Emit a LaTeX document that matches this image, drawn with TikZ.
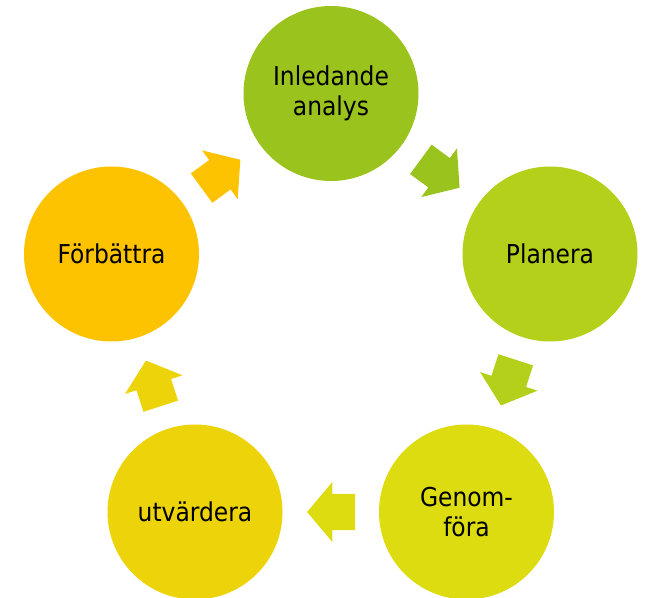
\documentclass[tikz,border=0pt]{standalone}
\usepackage{fontspec}
\setmainfont{DejaVu Sans Condensed}
\usepackage{xcolor}
\definecolor{olive-green}{RGB}{155,195,30}
\definecolor{lime-green}{RGB}{181,208,26}
\definecolor{pale-lime}{RGB}{220,220,16}
\definecolor{mustard}{RGB}{237,212,10}
\definecolor{amber}{RGB}{253,194,0}
\usetikzlibrary{shapes.arrows}

\begin{document}
\begin{tikzpicture}[x=1pt,y=1pt,
	stage/.style={circle,fill=#1,minimum size=175pt,inner sep=0pt,
		align=center,font=\fontsize{26}{30}\selectfont},
	turn/.style={single arrow,fill=#1,inner xsep=0pt,inner ysep=18pt,
		minimum height=48pt,minimum width=0pt,single arrow head extend=12pt,
		single arrow tip angle=100,sloped,allow upside down,xshift=-8pt}]
	\useasboundingbox (0,0) rectangle (649,598);
	
	\foreach \x/\y/\c/\n/\t in 
	{331/504.5/olive-green/inl/{Inledande\\analys},
	 550/344/lime-green/plan/Planera,
	 466.5/86/pale-lime/gen/{Genom-\\föra},
	 195/86/mustard/utv/utvärdera,
	 111.5/344/amber/forb/Förbättra}{
		\node[stage=\c] (\n) at (\x,\y) {\t};
%		\fill[red] (\n) circle (2pt);
	}
	
	\foreach \a/\b/\c in 
	{forb/inl/amber,inl/plan/olive-green,plan/gen/lime-green,
	 gen/utv/pale-lime,utv/forb/mustard}{
		\path (\a) -- node[turn=\c] {} (\b);
	}
\end{tikzpicture}
\end{document}
